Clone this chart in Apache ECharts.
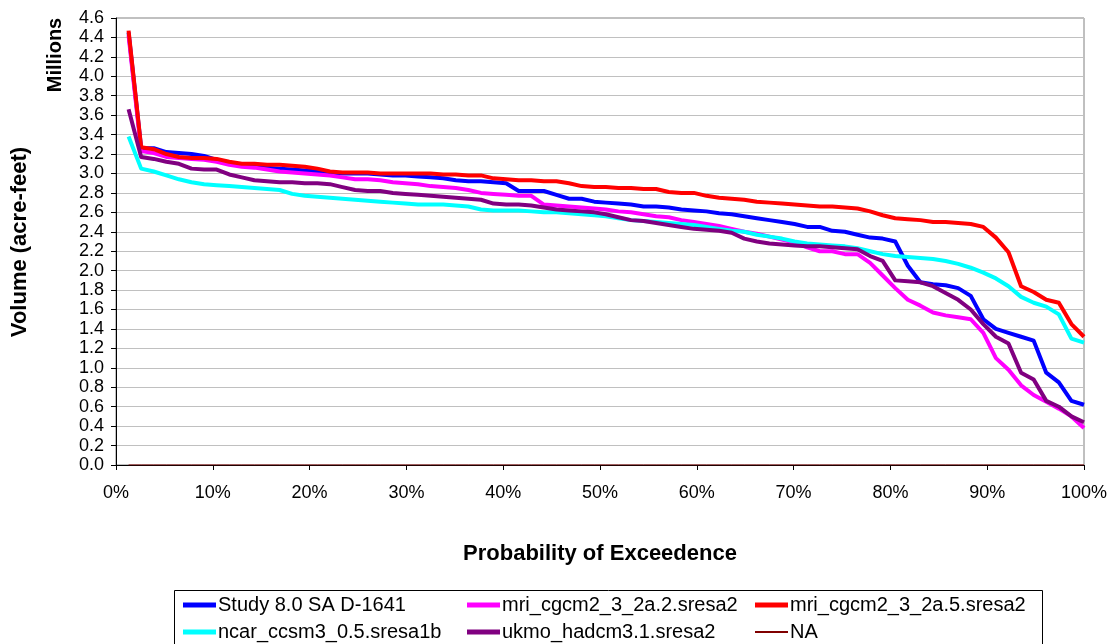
<!DOCTYPE html>
<html>
<head>
<meta charset="UTF-8">
<title>Probability of Exceedence</title>
<style>
  * { margin: 0; padding: 0; box-sizing: border-box; }
  html, body { width: 100%; height: 100%; background: #fff; }
  #chart { width: 1114px; height: 644px; }
</style>
</head>
<body>
<div id="chart"></div>
<script src="https://cdn.jsdelivr.net/npm/echarts@6/dist/echarts.min.js"></script>
<script>
// probability of exceedence (%)
var probs = [1.3, 2.6, 3.9, 5.2, 6.5, 7.8, 9.1, 10.4, 11.7, 13.0,
    14.3, 15.6, 16.9, 18.2, 19.5, 20.8, 22.1, 23.4, 24.7, 26.0,
    27.3, 28.6, 29.9, 31.2, 32.5, 33.8, 35.1, 36.4, 37.7, 39.0,
    40.3, 41.6, 42.9, 44.2, 45.5, 46.8, 48.1, 49.4, 50.6, 51.9,
    53.2, 54.5, 55.8, 57.1, 58.4, 59.7, 61.0, 62.3, 63.6, 64.9,
    66.2, 67.5, 68.8, 70.1, 71.4, 72.7, 74.0, 75.3, 76.6, 77.9,
    79.2, 80.5, 81.8, 83.1, 84.4, 85.7, 87.0, 88.3, 89.6, 90.9,
    92.2, 93.5, 94.8, 96.1, 97.4, 98.7, 100];

// volumes, millions of acre-feet
var study = [4.45, 3.26, 3.26, 3.22, 3.21, 3.20, 3.18, 3.14, 3.11, 3.08,
    3.07, 3.06, 3.05, 3.04, 3.03, 3.02, 3.01, 3.00, 3.00, 3.00,
    2.99, 2.98, 2.98, 2.97, 2.96, 2.95, 2.93, 2.92, 2.92, 2.91,
    2.90, 2.82, 2.82, 2.82, 2.78, 2.74, 2.74, 2.71, 2.70, 2.69,
    2.68, 2.66, 2.66, 2.65, 2.63, 2.62, 2.61, 2.59, 2.58, 2.56,
    2.54, 2.52, 2.50, 2.48, 2.45, 2.45, 2.41, 2.40, 2.37, 2.34,
    2.33, 2.30, 2.05, 1.88, 1.86, 1.85, 1.82, 1.74, 1.50, 1.40,
    1.36, 1.32, 1.28, 0.95, 0.85, 0.66, 0.62];
var mri22 = [4.42, 3.23, 3.21, 3.17, 3.16, 3.15, 3.14, 3.12, 3.09, 3.07,
    3.06, 3.04, 3.02, 3.01, 3.00, 2.99, 2.98, 2.96, 2.94, 2.94,
    2.93, 2.91, 2.90, 2.89, 2.87, 2.86, 2.85, 2.83, 2.80, 2.79,
    2.78, 2.77, 2.77, 2.68, 2.67, 2.66, 2.65, 2.64, 2.63, 2.61,
    2.60, 2.58, 2.56, 2.55, 2.52, 2.50, 2.48, 2.46, 2.43, 2.40,
    2.38, 2.35, 2.32, 2.29, 2.24, 2.20, 2.20, 2.17, 2.17, 2.08,
    1.95, 1.82, 1.70, 1.64, 1.57, 1.54, 1.52, 1.50, 1.36, 1.10,
    0.98, 0.82, 0.72, 0.65, 0.58, 0.50, 0.38];
var mri25 = [4.47, 3.27, 3.25, 3.20, 3.17, 3.16, 3.16, 3.15, 3.12, 3.10,
    3.10, 3.09, 3.09, 3.08, 3.07, 3.05, 3.02, 3.01, 3.01, 3.01,
    3.00, 3.00, 3.00, 3.00, 3.00, 2.99, 2.99, 2.98, 2.98, 2.95,
    2.94, 2.93, 2.93, 2.92, 2.92, 2.90, 2.87, 2.86, 2.86, 2.85,
    2.85, 2.84, 2.84, 2.81, 2.80, 2.80, 2.77, 2.75, 2.74, 2.73,
    2.71, 2.70, 2.69, 2.68, 2.67, 2.66, 2.66, 2.65, 2.64, 2.61,
    2.57, 2.54, 2.53, 2.52, 2.50, 2.50, 2.49, 2.48, 2.45, 2.34,
    2.19, 1.84, 1.78, 1.70, 1.67, 1.45, 1.32];
var ncar = [3.38, 3.05, 3.02, 2.98, 2.94, 2.91, 2.89, 2.88, 2.87, 2.86,
    2.85, 2.84, 2.83, 2.79, 2.77, 2.76, 2.75, 2.74, 2.73, 2.72,
    2.71, 2.70, 2.69, 2.68, 2.68, 2.68, 2.67, 2.66, 2.63, 2.62,
    2.62, 2.62, 2.61, 2.60, 2.60, 2.59, 2.58, 2.57, 2.56, 2.54,
    2.52, 2.51, 2.50, 2.49, 2.48, 2.47, 2.45, 2.43, 2.41, 2.40,
    2.37, 2.35, 2.33, 2.30, 2.28, 2.27, 2.26, 2.25, 2.23, 2.20,
    2.17, 2.15, 2.14, 2.13, 2.12, 2.10, 2.07, 2.03, 1.98, 1.92,
    1.84, 1.73, 1.67, 1.63, 1.55, 1.30, 1.26];
var ukmo = [3.66, 3.17, 3.15, 3.12, 3.10, 3.05, 3.04, 3.04, 2.99, 2.96,
    2.93, 2.92, 2.91, 2.91, 2.90, 2.90, 2.89, 2.86, 2.83, 2.82,
    2.82, 2.80, 2.79, 2.78, 2.77, 2.76, 2.75, 2.74, 2.73, 2.69,
    2.68, 2.68, 2.67, 2.65, 2.63, 2.62, 2.61, 2.60, 2.58, 2.55,
    2.52, 2.51, 2.49, 2.47, 2.45, 2.43, 2.42, 2.41, 2.39, 2.33,
    2.30, 2.28, 2.27, 2.26, 2.25, 2.25, 2.24, 2.23, 2.22, 2.15,
    2.10, 1.90, 1.89, 1.88, 1.84, 1.77, 1.70, 1.60, 1.45, 1.32,
    1.25, 0.95, 0.88, 0.66, 0.60, 0.50, 0.44];
var na = [0, 0, 0, 0, 0, 0, 0, 0, 0, 0,
    0, 0, 0, 0, 0, 0, 0, 0, 0, 0,
    0, 0, 0, 0, 0, 0, 0, 0, 0, 0,
    0, 0, 0, 0, 0, 0, 0, 0, 0, 0,
    0, 0, 0, 0, 0, 0, 0, 0, 0, 0,
    0, 0, 0, 0, 0, 0, 0, 0, 0, 0,
    0, 0, 0, 0, 0, 0, 0, 0, 0, 0,
    0, 0, 0, 0, 0, 0, 0];

var names = ['Study 8.0 SA D-1641', 'mri_cgcm2_3_2a.2.sresa2', 'mri_cgcm2_3_2a.5.sresa2',
    'ncar_ccsm3_0.5.sresa1b', 'ukmo_hadcm3.1.sresa2', 'NA'];
var colors = ['#0000ff', '#ff00ff', '#ff0000', '#00ffff', '#800080', '#800000'];
var values = [study, mri22, mri25, ncar, ukmo, na];

var font = 'Liberation Sans, Arial, sans-serif';

function pairs(ys) {
    var out = [];
    for (var i = 0; i < probs.length; i++) out.push([probs[i], ys[i]]);
    return out;
}

var series = [];
for (var k = 0; k < names.length; k++) {
    series.push({
        name: names[k],
        type: 'line',
        data: pairs(values[k]),
        showSymbol: false,
        symbol: 'none',
        animation: false,
        lineStyle: { color: colors[k], width: k == 5 ? 1 : 4, join: 'round' },
        itemStyle: { color: colors[k] }
    });
}

// one legend per item so the boxed 3-column layout can be placed exactly
var legendPos = [[178, 590], [462, 590], [750, 590], [178, 617], [462, 617], [750, 617]];
var legends = [];
for (var j = 0; j < names.length; j++) {
    legends.push({
        data: [{ name: names[j], icon: 'rect' }],
        left: legendPos[j][0],
        top: legendPos[j][1],
        itemWidth: 33,
        itemHeight: j == 5 ? 2 : 5,
        itemGap: 0,
        selectedMode: false,
        textStyle: { fontFamily: font, fontSize: 20, color: '#000', padding: [0, 0, 0, -3] }
    });
}

var chart = echarts.init(document.getElementById('chart'));
chart.setOption({
    animation: false,
    backgroundColor: '#fff',
    grid: {
        left: 116, right: 30, top: 18, bottom: 179,
        show: true, borderColor: '#808080', borderWidth: 1
    },
    legend: legends,
    xAxis: {
        type: 'value',
        min: 0, max: 100, interval: 10,
        name: 'Probability of Exceedence',
        nameLocation: 'middle',
        nameGap: 78,
        nameTextStyle: { fontFamily: font, fontSize: 22, fontWeight: 'bold', color: '#000' },
        axisLine: { show: true, lineStyle: { color: '#000' } },
        axisTick: { show: true, length: 5, lineStyle: { color: '#000' } },
        axisLabel: { formatter: '{value}%', fontFamily: font, fontSize: 18, color: '#000', margin: 19 },
        splitLine: { show: false }
    },
    yAxis: {
        type: 'value',
        min: 0, max: 4.6, interval: 0.2,
        axisLine: { show: true, lineStyle: { color: '#000' } },
        axisTick: { show: true, length: 5, lineStyle: { color: '#000' } },
        axisLabel: {
            fontFamily: font, fontSize: 18, color: '#000', margin: 12,
            formatter: function (v) { return v.toFixed(1); }
        },
        splitLine: { show: true, lineStyle: { color: '#c0c0c0', width: 1 } }
    },
    graphic: [
        {
            type: 'rect', left: 172, top: 588, silent: true,
            shape: { width: 868, height: 62 },
            style: { fill: 'none', stroke: '#000', lineWidth: 1 }
        },
        {
            type: 'text', x: 55, y: 55, rotation: Math.PI / 2, silent: true,
            style: { text: 'Millions', fontFamily: font, fontSize: 20, fontWeight: 'bold',
                fill: '#000', align: 'center', verticalAlign: 'middle' }
        },
        {
            type: 'text', x: 20, y: 242, rotation: Math.PI / 2, silent: true,
            style: { text: 'Volume (acre-feet)', fontFamily: font, fontSize: 22, fontWeight: 'bold',
                fill: '#000', align: 'center', verticalAlign: 'middle' }
        }
    ],
    series: series
});
</script>
</body>
</html>
